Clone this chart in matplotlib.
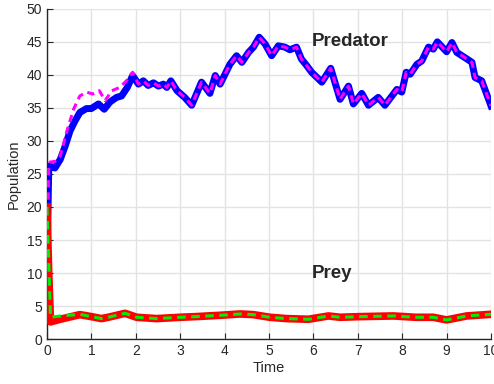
import matplotlib
matplotlib.use("Agg")
import matplotlib.pyplot as plt

# Predator (model, blue solid)
pred_t = [0, 0.04, 0.07, 0.18, 0.3, 0.41, 0.52, 0.63, 0.74, 0.89, 1.0, 1.16, 1.29, 1.42, 1.57, 1.68,
          1.81, 1.93, 2.06, 2.17, 2.28, 2.4, 2.51, 2.62, 2.7, 2.79, 2.93, 3.1, 3.26, 3.48, 3.67, 3.79,
          3.9, 4.12, 4.27, 4.39, 4.54, 4.65, 4.78, 4.91, 5.06, 5.21, 5.36, 5.47, 5.62, 5.73, 5.85,
          5.96, 6.19, 6.39, 6.6, 6.79, 6.9, 7.09, 7.24, 7.46, 7.61, 7.88, 7.99, 8.09, 8.18, 8.33,
          8.44, 8.59, 8.7, 8.79, 9.0, 9.12, 9.23, 9.46, 9.57, 9.64, 9.79, 10.0]
pred_v = [10, 25.5, 26.2, 25.9, 27.2, 29.2, 31.5, 33.0, 34.3, 34.9, 34.9, 35.6, 34.8, 35.9, 36.6, 36.8,
          38.1, 39.9, 38.6, 39.1, 38.4, 38.8, 38.3, 38.6, 38.1, 39.1, 37.6, 36.6, 35.4, 38.9, 37.2, 39.9,
          38.6, 41.6, 42.9, 41.9, 43.4, 44.2, 45.7, 44.7, 42.9, 44.4, 44.2, 43.8, 44.2, 42.4, 41.4,
          40.4, 38.9, 41.0, 36.3, 38.3, 35.6, 37.2, 35.4, 36.6, 35.4, 37.8, 37.4, 40.4, 40.1, 41.6,
          42.1, 44.2, 43.9, 45.0, 43.5, 44.9, 43.4, 42.4, 41.9, 39.6, 39.1, 35.3]

# Predator (second estimate, magenta dashed)
pred2_t = [0, 0.04, 0.07, 0.18, 0.3, 0.45, 0.6, 0.74, 0.89, 1.03, 1.18, 1.31, 1.46, 1.64, 1.79, 1.93,
           2.06, 2.17, 2.28, 2.4, 2.51, 2.62, 2.7, 2.79, 2.93, 3.1, 3.26, 3.48, 3.67, 3.79,
           3.9, 4.12, 4.27, 4.39, 4.54, 4.65, 4.78, 4.91, 5.06, 5.21, 5.36, 5.47, 5.62, 5.73, 5.85,
           5.96, 6.19, 6.39, 6.6, 6.79, 6.9, 7.09, 7.24, 7.46, 7.61, 7.88, 7.99, 8.09, 8.18, 8.33,
           8.44, 8.59, 8.7, 8.79, 9.0, 9.12, 9.23, 9.46, 9.57, 9.64, 9.79, 10.0]
pred2_v = [10, 26.0, 26.8, 26.9, 27.7, 31.5, 34.8, 36.8, 37.4, 37.1, 37.6, 36.1, 37.6, 38.1, 39.1, 40.4,
           38.6, 39.1, 38.4, 38.8, 38.3, 38.6, 38.1, 39.1, 37.6, 36.6, 35.4, 38.9, 37.2, 39.9,
           38.6, 41.6, 42.9, 41.9, 43.4, 44.2, 45.7, 44.7, 42.9, 44.4, 44.2, 43.8, 44.2, 42.4, 41.4,
           40.4, 38.9, 41.0, 36.3, 38.3, 35.6, 37.2, 35.4, 36.6, 35.4, 37.8, 37.4, 40.4, 40.1, 41.6,
           42.1, 44.2, 43.9, 45.0, 43.5, 44.9, 43.4, 42.4, 41.9, 39.6, 39.1, 35.3]

# Prey (red solid)
prey_t = [0, 0.04, 0.08, 0.3, 0.74, 1.0, 1.23, 1.38, 1.76, 2.02, 2.47, 3.0, 3.35, 3.9, 4.35, 4.65,
          5.02, 5.4, 5.89, 6.34, 6.6, 7.05, 7.8, 8.3, 8.7, 9.0, 9.45, 10.0]
prey_v = [20, 10, 2.6, 3.0, 3.7, 3.4, 3.1, 3.3, 3.9, 3.3, 3.1, 3.3, 3.4, 3.6, 3.8, 3.7,
          3.3, 3.1, 3.0, 3.5, 3.3, 3.4, 3.5, 3.3, 3.3, 2.9, 3.5, 3.75]

# Prey (green dashed)
prey2_t = [0, 0.04, 0.08, 0.3, 0.74, 1.0, 1.23, 1.38, 1.76, 2.02, 2.47, 3.0, 3.35, 3.9, 4.35, 4.65,
           5.02, 5.4, 5.89, 6.34, 6.6, 7.05, 7.8, 8.3, 8.7, 9.0, 9.45, 10.0]
prey2_v = [20, 12, 3.3, 3.5, 3.75, 3.4, 3.1, 3.3, 3.9, 3.3, 3.1, 3.3, 3.4, 3.6, 3.8, 3.7,
           3.3, 3.1, 3.0, 3.5, 3.3, 3.4, 3.5, 3.3, 3.3, 2.9, 3.5, 3.75]

x_ticks = list(range(0, 11))
y_ticks = list(range(0, 51, 5))

plt.rcParams['font.family'] = ['Liberation Sans', 'DejaVu Sans']

fig = plt.figure(figsize=(4.94, 3.84), dpi=100)
ax = fig.add_axes([0.095, 0.117, 0.899, 0.860])

ax.plot(pred_t, pred_v, color='#0000ff', lw=5.0, solid_joinstyle='round', zorder=3)
ax.plot(pred2_t, pred2_v, color='#ff00ff', lw=2.2, ls=(0, (2.4, 1.6)), zorder=4)
ax.plot(prey_t, prey_v, color='#ff0000', lw=5.5, solid_joinstyle='round', zorder=5)
ax.plot(prey2_t, prey2_v, color='#00ee00', lw=2.2, ls=(0, (2.8, 1.8)), zorder=6)

ax.text(6.82, 45.0, 'Predator', fontsize=13.5, fontweight='bold', color='#262626',
        ha='center', va='center')
ax.text(6.42, 10.0, 'Prey', fontsize=13.5, fontweight='bold', color='#262626',
        ha='center', va='center')

ax.set_xlim(0, 10)
ax.set_ylim(0, 50)
ax.set_xticks(x_ticks)
ax.set_yticks(y_ticks)
ax.grid(True, color='#e3e3e3', lw=1)
ax.set_axisbelow(True)
for s in ['top', 'right']:
    ax.spines[s].set_visible(False)
for s in ['left', 'bottom']:
    ax.spines[s].set_color('#262626')
    ax.spines[s].set_linewidth(1)
ax.tick_params(direction='in', length=4, colors='#262626', labelsize=10)
ax.set_xlabel('Time', fontsize=10.5, color='#262626', labelpad=2)
ax.set_ylabel('Population', fontsize=10.5, color='#262626', labelpad=4)

fig.savefig('out.png', dpi=100)
